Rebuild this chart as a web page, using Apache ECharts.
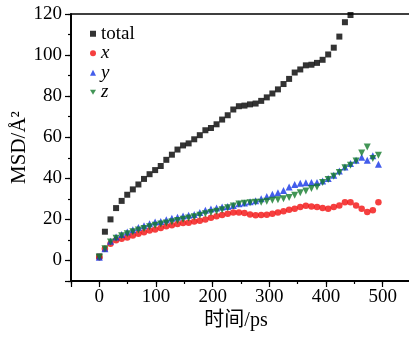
<!DOCTYPE html>
<html>
<head>
<meta charset="utf-8">
<script src="https://cdn.jsdelivr.net/npm/echarts@6/dist/echarts.min.js"></script>
<style>
  html, body { margin: 0; padding: 0; background: #fff; }
  #chart { width: 409px; height: 341px; }
</style>
</head>
<body>
<div id="chart"></div>
<script>
// Sampling times (ps) of the MSD curves
const times = [0, 9.85, 19.7, 29.55, 39.4, 49.25, 59.1, 68.95, 78.8, 88.65,
  98.5, 108.35, 118.2, 128.05, 137.9, 147.75, 157.6, 167.45, 177.3, 187.15,
  197, 206.85, 216.7, 226.55, 236.4, 246.25, 256.1, 265.95, 275.8, 285.65,
  295.5, 305.35, 315.2, 325.05, 334.9, 344.75, 354.6, 364.45, 374.3, 384.15,
  394, 403.85, 413.7, 423.55, 433.4, 443.25, 453.1, 462.95, 472.8, 482.65, 492.5];

// Total mean squared displacement (Å²)
const total = [2, 14, 20, 25.5, 29, 32, 34.6, 37, 39.7, 42,
  44, 46, 49, 51.5, 54, 56, 57, 59, 61, 63.4,
  64.5, 66.3, 68.6, 70.7, 73.5, 75.1, 75.4, 76, 76.4, 77.7,
  79.4, 81.3, 83.3, 85.9, 88.4, 91.5, 93, 95, 95.3, 96.2,
  97.7, 100.3, 103.6, 109, 116, 119.5, 121];

// Directional components (Å²)
const msdX = [1.6, 5.7, 8.1, 9.8, 10.6, 11.2, 12.2, 13, 13.7, 14.6,
  15.1, 15.8, 16.6, 17.2, 17.7, 18.2, 18.4, 19, 19.3, 20,
  20.8, 21.5, 22.1, 22.8, 23.4, 23.4, 23.1, 22.4, 22, 22.1,
  22.3, 22.8, 23.4, 24, 24.7, 25.2, 26, 26.6, 26.3, 26,
  25.5, 25.2, 26, 26.8, 28.4, 28.3, 26.7, 25.2, 23.6, 24.4, 28.3];

const msdY = [1.6, 5.7, 9.4, 11.4, 12.7, 13.8, 15, 16, 16.9, 17.9,
  18.7, 19, 19.8, 20.6, 21.1, 21.6, 22, 22.4, 23.3, 24.4,
  25, 25.5, 26, 26.3, 26.8, 27.6, 28, 28.6, 29.1, 30.1,
  31.2, 32.2, 33, 34.1, 35.8, 37, 37.6, 37.8, 37.9, 38,
  38.7, 39.9, 41.5, 43.6, 45.5, 47.2, 48.8, 50.2, 48.8, 51, 46.8];

const msdZ = [1.6, 5.7, 9, 10.8, 12, 13, 14, 14.8, 15.6, 16.4,
  17.1, 17.7, 18.3, 18.9, 19.5, 20.1, 20.7, 21.3, 22, 22.8,
  23.3, 24, 24.7, 25.7, 26.5, 27.5, 27.8, 28.1, 28.4, 28.4,
  28.8, 29.3, 29.6, 30.1, 30.6, 31.7, 33, 33.8, 35, 35.8,
  37.9, 39.4, 41, 42.8, 45.2, 46.3, 48.4, 52.3, 55.3, 49.6, 51.2];

const xTickLabels = [0, 100, 200, 300, 400, 500];
const yTickLabels = [0, 20, 40, 60, 80, 100, 120];

const serif = "'Liberation Serif', 'Noto Sans CJK SC', serif";
const pairs = vals => vals.map((v, i) => [times[i], v]);

// downward-pointing triangle used for the z component
const downTriangle = 'path://M0,0 L10,0 L5,8.66 Z';

const axisLine = { onZero: false, lineStyle: { color: '#000', width: 1.5 } };
const minorTick = { length: 3, lineStyle: { color: '#000', width: 1.2 } };
const majorTick = { length: 6, lineStyle: { color: '#000', width: 1.2 } };
const labelText = { fontFamily: serif, fontSize: 19, color: '#000' };

const chart = echarts.init(document.getElementById('chart'), null, { renderer: 'canvas' });

chart.setOption({
  animation: false,
  grid: { left: 71, width: 340, top: 14, bottom: 60, show: true,
          borderColor: '#000', borderWidth: 1.5,
          containLabel: false, outerBoundsMode: 'none' },
  legend: {
    orient: 'vertical', left: 85, top: 19,
    itemWidth: 6, itemHeight: 6, itemGap: 0, itemTextGap: 5,
    data: [
      { name: 'total' }, { name: 'x' }, { name: 'y' },
      { name: 'z', icon: downTriangle }
    ],
    formatter: n => n === 'total' ? n : '{i|' + n + '}',
    textStyle: {
      fontFamily: serif, fontSize: 19, color: '#000', lineHeight: 19.5,
      rich: { i: { fontFamily: serif, fontSize: 19, fontStyle: 'italic', lineHeight: 19.5 } }
    }
  },
  xAxis: [
    { type: 'value', position: 'bottom', min: -50, max: 550, interval: 50,
      axisLine, axisTick: minorTick, axisLabel: { show: false }, splitLine: { show: false } },
    { type: 'value', position: 'bottom', min: -50, max: 550, minInterval: 100, maxInterval: 100,
      axisLine, axisTick: majorTick, splitLine: { show: false },
      axisLabel: Object.assign({ margin: 7,
        formatter: v => xTickLabels.includes(v) ? String(v) : '' }, labelText),
      name: '时间/ps', nameLocation: 'middle', nameGap: 30, nameMoveOverlap: false,
      nameTextStyle: { fontFamily: serif, fontSize: 20, color: '#000', padding: [0, 10, 0, 0] } }
  ],
  yAxis: [
    { type: 'value', position: 'left', min: -10, max: 120, interval: 10,
      axisLine, axisTick: minorTick, axisLabel: { show: false }, splitLine: { show: false } },
    { type: 'value', position: 'left', min: -10, max: 120, minInterval: 20, maxInterval: 20,
      axisLine, axisTick: majorTick, splitLine: { show: false },
      axisLabel: Object.assign({ margin: 9,
        formatter: v => yTickLabels.includes(v) ? String(v) : '' }, labelText),
      name: 'MSD/Å²', nameLocation: 'middle', nameGap: 41, nameMoveOverlap: false,
      nameTextStyle: { fontFamily: serif, fontSize: 21, color: '#000' } }
  ],
  series: [
    { name: 'total', type: 'scatter', symbol: 'rect', symbolSize: 6,
      itemStyle: { color: '#000' }, data: pairs(total) },
    { name: 'x', type: 'scatter', symbol: 'circle', symbolSize: 6.5,
      itemStyle: { color: '#f20f0f' }, data: pairs(msdX) },
    { name: 'y', type: 'scatter', symbol: 'triangle', symbolSize: 7,
      itemStyle: { color: '#1434e6' }, data: pairs(msdY) },
    { name: 'z', type: 'scatter', symbol: downTriangle, symbolSize: 7,
      itemStyle: { color: '#137a2c' }, data: pairs(msdZ) }
  ]
});
</script>
</body>
</html>
